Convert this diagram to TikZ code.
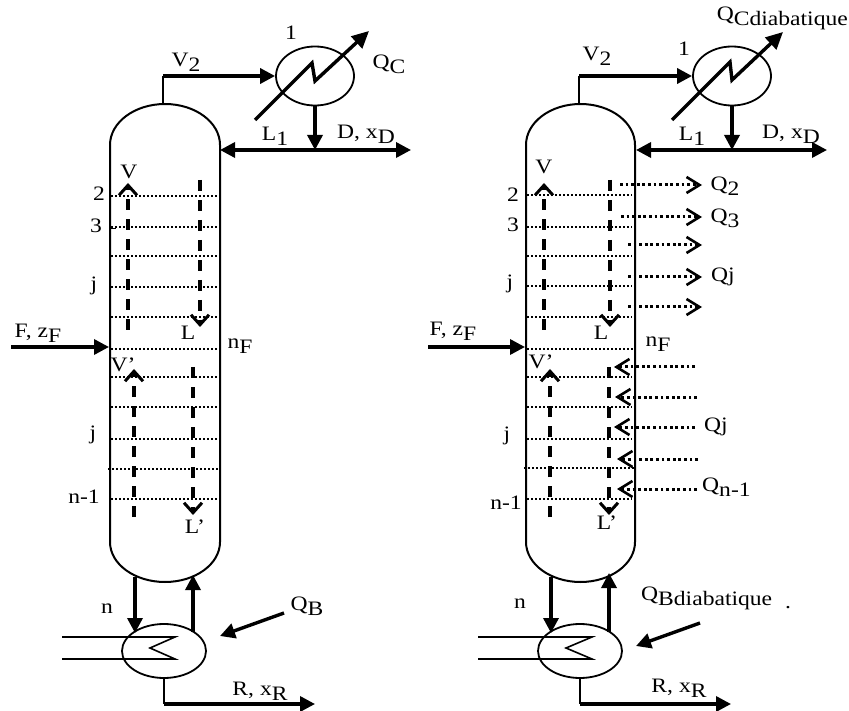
\documentclass[tikz,border=0pt]{standalone}
\usepackage{fontspec}
\setmainfont[FakeStretch=1.15]{Liberation Serif}
\usetikzlibrary{arrows.meta,shapes.geometric}
\newcommand{\lowsub}[1]{\raisebox{-5pt}{#1}}
\tikzset{
    lbl/.style={inner sep=0pt,font=\fontsize{20.5}{22}\selectfont},
    shell/.style={line width=2pt},
    tray/.style={line width=1.5pt,dash pattern=on 2pt off 2pt},
    stream/.style={line width=3.4pt,-{Triangle[length=15pt,width=15pt]}},
    twoway/.style={line width=3.4pt,{Triangle[length=15pt,width=15pt]}-{Triangle[length=15pt,width=15pt]}},
    pipe/.style={line width=2.6pt},
    flow/.style={line width=4.2pt,dash pattern=on 11pt off 9pt,-{Straight Barb[length=10pt,width=18pt,line width=3pt]}},
    duty/.style={line width=3pt,dash pattern=on 2.8pt off 2.8pt,-{Straight Barb[length=13pt,width=16pt,line width=2.6pt]}},
    exchanger/.style={draw,ellipse,line width=1.8pt,minimum width=78pt,minimum height=59pt,inner sep=0pt},
    reboiler/.style={draw,ellipse,line width=1.8pt,minimum width=84pt,minimum height=54pt,inner sep=0pt},
}
\begin{document}
\begin{tikzpicture}[x=1pt,y=-1pt]
    \useasboundingbox (0,0) rectangle (849,711);
    %% left column
    \draw[shell] (110,145) arc[start angle=180,end angle=0,x radius=55pt,y radius=41pt]
        -- (220,542) arc[start angle=0,end angle=-180,x radius=55pt,y radius=40pt] -- cycle;
    \draw[tray] (111,196) -- (219,196) (111,227) -- (219,227) (111,256) -- (219,256)
        (111,287) -- (219,287) (111,317) -- (219,317) (111,349) -- (219,349)
        (111,377) -- (219,377) (111,407) -- (219,407) (111,439) -- (219,439)
        (108,469) -- (219,469) (111,499) -- (219,499);
    \draw[line width=1pt] (109,229) -- (116,229);
    %% left condenser
    \node[exchanger] (condA) at (315,76) {};
    \coordinate (topA) at (163,104);
    \coordinate (bendA) at (163,76);
    \coordinate (overA) at (315,150);
    \coordinate (wallA) at (220,150);
    \coordinate (distA) at (411,150);
    \draw[pipe] (topA) -- (bendA);
    \draw[stream] (bendA) -- (condA.west);
    \draw[stream] (condA.south) -- (overA);
    \draw[twoway] (wallA) -- (distA);
    \draw[line width=3.4pt,-{Triangle[length=17pt,width=16pt]}] (255,120) -- (312,63) -- (315,81) -- (369,31);
    %% left internal flows
    \draw[flow] (128,330) -- (128,183);
    \draw[flow] (200,180) -- (200,327);
    \draw[flow] (134,517) -- (134,369);
    \draw[flow] (193,367) -- (193,515);
    %% left feed
    \coordinate (feedA) at (11,347);
    \coordinate (inA) at (109,347);
    \draw[stream] (feedA) -- (inA);
    %% left reboiler
    \node[reboiler] (rebA) at (164,651) {};
    \draw[line width=1.6pt] (62,637) -- (175,637) -- (150,648) -- (175,659) -- (62,659);
    \coordinate (downA) at (135,577);
    \coordinate (upA) at (193,575);
    \coordinate (footA) at (164,704);
    \coordinate (botA) at (315,704);
    \draw[stream] (downA) -- (135,633);
    \draw[stream] (193,632) -- (upA);
    \draw[pipe] (rebA.south) -- (footA);
    \draw[stream] (footA) -- (botA);
    \coordinate (heatA) at (284,613);
    \draw[stream] (heatA) -- (220,636);
    %% left labels
    \node[lbl] (oneA) at (291,33) {1};
    \node[lbl] (vtwoA) at (186,62) {V\lowsub{2}};
    \node[lbl] (qcA) at (389,64) {Q\lowsub{C}};
    \node[lbl] (loneA) at (275,136) {L\lowsub{1}};
    \node[lbl] (dxA) at (366,134) {D, x\lowsub{D}};
    \node[lbl] (vA) at (129,172) {V};
    \node[lbl] (twoA) at (99,194) {2};
    \node[lbl] (threeA) at (96,226) {3};
    \node[lbl] (jA) at (94,286) {j};
    \node[lbl] (lA) at (188,333) {L};
    \node[lbl] (fzA) at (38,333) {F, z\lowsub{F}};
    \node[lbl] (nfA) at (240,346) {n\lowsub{F}};
    \node[lbl] (vpA) at (123,365) {V'};
    \node[lbl] (jbA) at (93,435) {j};
    \node[lbl] (nmA) at (84,497) {n-1};
    \node[lbl] (lpA) at (195,527) {L'};
    \node[lbl] (nA) at (107,609) {n};
    \node[lbl] (qbA) at (307,606) {Q\lowsub{B}};
    \node[lbl] (rxA) at (260,691) {R, x\lowsub{R}};
    %% right column
    \draw[shell] (526,145) arc[start angle=180,end angle=0,x radius=54.5pt,y radius=41pt]
        -- (635,542) arc[start angle=0,end angle=-180,x radius=54.5pt,y radius=40pt] -- cycle;
    \draw[tray] (527,195) -- (632,195) (527,227) -- (632,227) (527,256) -- (632,256)
        (527,286) -- (632,286) (527,317) -- (632,317) (527,349) -- (634,349)
        (527,377) -- (632,377) (527,407) -- (632,407) (527,439) -- (632,439)
        (524,468) -- (634,468) (527,499) -- (632,499);
    %% right condenser
    \node[exchanger] (condB) at (732,76) {};
    \coordinate (topB) at (579,104);
    \coordinate (bendB) at (579,76);
    \coordinate (overB) at (732,150);
    \coordinate (wallB) at (636,150);
    \coordinate (distB) at (827,150);
    \draw[pipe] (topB) -- (bendB);
    \draw[stream] (bendB) -- (condB.west);
    \draw[stream] (condB.south) -- (overB);
    \draw[twoway] (wallB) -- (distB);
    \draw[line width=3.4pt,-{Triangle[length=17pt,width=16pt]}] (672,120) -- (730,62) -- (732,80) -- (783,32);
    %% right internal flows
    \draw[flow] (544,330) -- (544,183);
    \draw[flow] (610,180) -- (610,327);
    \draw[flow] (550,517) -- (550,369);
    \draw[flow] (609,367) -- (609,515);
    %% heat duties out
    \draw[duty] (620,185) -- (702,185);
    \draw[duty] (621,217) -- (702,217);
    \draw[duty] (628,245) -- (702,245);
    \draw[duty] (628,277) -- (702,277);
    \draw[duty] (628,307) -- (702,307);
    %% heat duties in
    \draw[duty] (695,367) -- (614,367);
    \draw[duty] (697,397) -- (615,397);
    \draw[duty] (695,427) -- (614,427);
    \draw[duty] (698,459) -- (617,459);
    \draw[duty] (697,489) -- (617,489);
    %% right feed
    \coordinate (feedB) at (428,347);
    \coordinate (inB) at (525,347);
    \draw[stream] (feedB) -- (inB);
    %% right reboiler
    \node[reboiler] (rebB) at (580,651) {};
    \draw[line width=1.6pt] (478,637) -- (592,637) -- (566,648) -- (592,659) -- (478,659);
    \coordinate (downB) at (551,577);
    \coordinate (upB) at (609,573);
    \coordinate (footB) at (580,704);
    \coordinate (botB) at (731,704);
    \draw[stream] (downB) -- (551,633);
    \draw[stream] (609,632) -- (upB);
    \draw[pipe] (rebB.south) -- (footB);
    \draw[stream] (footB) -- (botB);
    \coordinate (heatB) at (700,623);
    \draw[stream] (heatB) -- (636,646);
    %% right labels
    \node[lbl] (oneB) at (684,49) {1};
    \node[lbl] (vtwoB) at (597,56) {V\lowsub{2}};
    \node[lbl,anchor=east] (qcB) at (848,18) {Q\lowsub{Cdiabatique}};
    \node[lbl] (loneB) at (692,136) {L\lowsub{1}};
    \node[lbl] (dxB) at (791,134) {D, x\lowsub{D}};
    \node[lbl] (vB) at (544,167) {V};
    \node[lbl] (twoB) at (513,195) {2};
    \node[lbl] (threeB) at (513,225) {3};
    \node[lbl] (jB) at (510,284) {j};
    \node[lbl] (lB) at (601,333) {L};
    \node[lbl] (fzB) at (453,331) {F, z\lowsub{F}};
    \node[lbl] (nfB) at (658,344) {n\lowsub{F}};
    \node[lbl] (vpB) at (541,362) {V'};
    \node[lbl] (jbB) at (507,436) {j};
    \node[lbl] (nmB) at (506,503) {n-1};
    \node[lbl] (lpB) at (607,523) {L'};
    \node[lbl] (nB) at (520,604) {n};
    \node[lbl,anchor=west] (qbB) at (641,598) {Q\lowsub{Bdiabatique}};
    \node[lbl] (dotB) at (788,608) {.};
    \node[lbl] (rxB) at (679,688) {R, x\lowsub{R}};
    \node[lbl] (qtwoB) at (725,186) {Q\lowsub{2}};
    \node[lbl] (qthreeB) at (725,218) {Q\lowsub{3}};
    \node[lbl] (qjB) at (723,277) {Qj};
    \node[lbl] (qjbB) at (716,427) {Qj};
    \node[lbl,anchor=west] (qnB) at (702,487) {Q\lowsub{n-1}};
\end{tikzpicture}
\end{document}
